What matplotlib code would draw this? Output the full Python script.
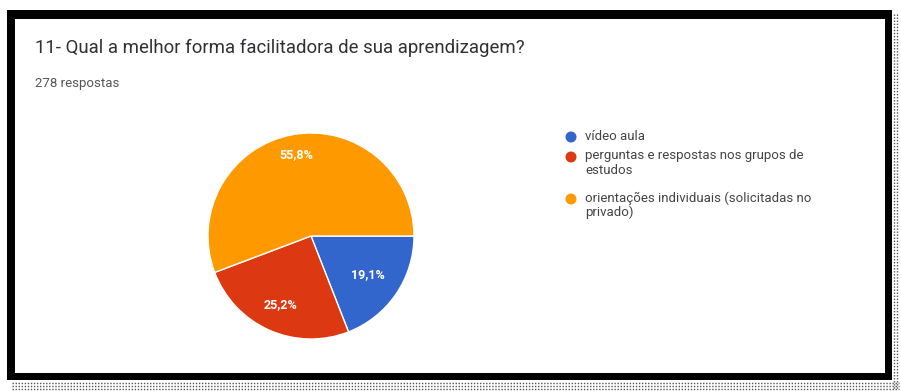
import matplotlib
matplotlib.use("Agg")
import matplotlib.pyplot as plt
from matplotlib.patches import Rectangle, Circle
import numpy as np

plt.rcParams['font.family'] = ['Roboto', 'DejaVu Sans']

# Survey data
title = "11- Qual a melhor forma facilitadora de sua aprendizagem?"
subtitle = "278 respostas"
categories = ["vídeo aula",
              "perguntas e respostas nos grupos de\nestudos",
              "orientações individuais (solicitadas no\nprivado)"]
counts = [53, 70, 155]
colors = ["#3366cc", "#dc3912", "#ff9900"]

W, H = 901, 391
fig = plt.figure(figsize=(W / 100, H / 100), dpi=100)
fig.patch.set_facecolor("white")

def fx(px):
    return px / W

def fy(py):
    return 1 - py / H

# Card frame with black border and dotted shadow
bg = fig.add_axes([0, 0, 1, 1])
bg.set_xlim(0, W)
bg.set_ylim(H, 0)
bg.axis("off")
for yy in np.arange(383, 391, 3):
    bg.plot([12, 899], [yy, yy], color="#555555", lw=1.0, ls=(0, (1, 1.2)))
for xx in np.arange(894, 900, 3):
    bg.plot([xx, xx], [14, 389], color="#555555", lw=1.0, ls=(0, (1, 1.2)))
bg.add_patch(Rectangle((7, 10), 885, 370, facecolor="black", edgecolor="none"))
bg.add_patch(Rectangle((15, 19), 870, 354, facecolor="white", edgecolor="none"))

fig.text(fx(35), fy(48), title, fontsize=13.4, color="#303134", va="center", ha="left")
fig.text(fx(35), fy(84), subtitle, fontsize=9.5, color="#555555", va="center", ha="left")

# Pie
cx, cy, r = 311, 236, 103
ax = fig.add_axes([fx(cx - r), fy(cy + r), 2 * r / W, 2 * r / H])
wedges, _ = ax.pie(counts, colors=colors, startangle=0, counterclock=False,
                   radius=1.0, wedgeprops=dict(edgecolor="white", linewidth=1.0))
ax.set_xlim(-1, 1)
ax.set_ylim(-1, 1)
ax.set_aspect("auto")
ax.axis("off")

total = sum(counts)
label_r = [0.67, 0.73, 0.80]
for w, c, lr in zip(wedges, counts, label_r):
    mid = np.deg2rad((w.theta1 + w.theta2) / 2)
    pct = f"{100 * c / total:.1f}%".replace(".", ",")
    ax.text(lr * np.cos(mid), lr * np.sin(mid), pct, ha="center", va="center",
            color="white", fontsize=9, fontweight="bold")

# Legend
leg_rows = [137, 157, 199]
for cat, col, ly in zip(categories, colors, leg_rows):
    bg.add_patch(Circle((571, ly), 5.5, facecolor=col, edgecolor="none"))
    bg.text(585, ly - 7.5, cat, fontsize=9.5, color="#444444", va="top", ha="left",
            linespacing=1.1)

fig.savefig("out.png", dpi=100)
